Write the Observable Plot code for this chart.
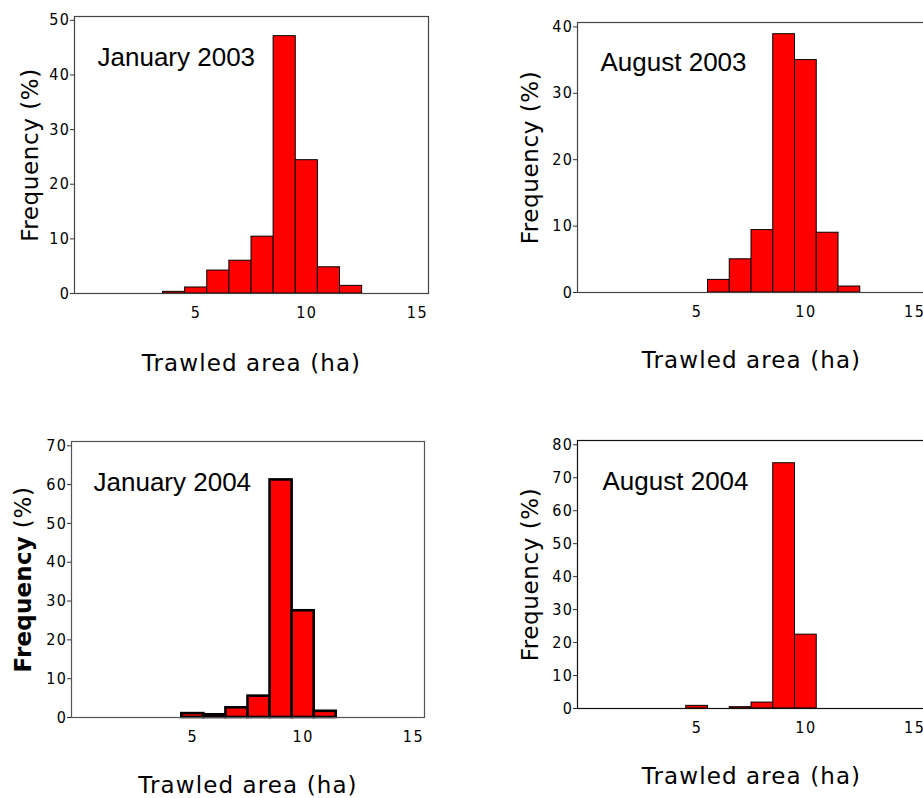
<!DOCTYPE html>
<html>
<head>
<meta charset="utf-8">
<script src="https://cdn.jsdelivr.net/npm/d3@7"></script>
<script src="https://cdn.jsdelivr.net/npm/@observablehq/plot@0.6"></script>
<style>
  html, body { margin: 0; padding: 0; background: #fff; }
  body { width: 923px; height: 798px; overflow: hidden; position: relative; }
  .panel { position: absolute; }
  .panel svg { overflow: visible; max-width: none !important; }
  .panel g[aria-label$="tick label"] text { letter-spacing: 1.5px; font-stretch: condensed; }
</style>
</head>
<body>
<div id="root"></div>
<script>
// Histogram bins: trawled area (ha), bin centres, and frequency (%) per survey
const jan2003Bins = [4, 5, 6, 7, 8, 9, 10, 11, 12];
const jan2003Freq = [0.3, 1.1, 4.2, 6.0, 10.4, 47.1, 24.4, 4.8, 1.4];

const aug2003Bins = [6, 7, 8, 9, 10, 11, 12];
const aug2003Freq = [1.9, 5.0, 9.4, 38.9, 35.0, 9.0, 0.9];

const jan2004Bins = [5, 6, 7, 8, 9, 10, 11];
const jan2004Freq = [1.0, 0.7, 2.5, 5.5, 61.2, 27.5, 1.6];

const aug2004Bins = [5, 7, 8, 9, 10];
const aug2004Freq = [0.8, 0.4, 1.8, 74.4, 22.4];

const xTicks = [5, 10, 15];
const xLabel = "Trawled area (ha)";
const yLabel = "Frequency (%)";

const tickFont = "'DejaVu Sans Condensed', 'Liberation Sans Narrow', sans-serif";
const labelFont = "'DejaVu Sans', sans-serif";
const titleFont = "'Liberation Sans', Arial, sans-serif";

const panels = [
  { title: "January 2003", bins: jan2003Bins, freq: jan2003Freq, yMax: 50.7, yTicks: d3.range(0, 51, 10),
    left: 0, top: 0, width: 461, height: 400,
    margin: { left: 74, right: 33, top: 16, bottom: 107 },
    yLabelDx: -44, xLabelDy: 70, titleDx: 23, titleDy: 41, barStroke: 1, frame: "#444" },
  { title: "August 2003", bins: aug2003Bins, freq: aug2003Freq, yMax: 40.66, yTicks: d3.range(0, 41, 10),
    left: 461, top: 0, width: 470, height: 400,
    margin: { left: 116, right: 6, top: 22, bottom: 108 },
    yLabelDx: -47, xLabelDy: 68, titleDx: 23, titleDy: 40, barStroke: 1, frame: "#444" },
  { title: "January 2004", bins: jan2004Bins, freq: jan2004Freq, yMax: 71.1, yTicks: d3.range(0, 71, 10),
    left: 0, top: 400, width: 461, height: 398,
    margin: { left: 71, right: 37, top: 41, bottom: 81 },
    yLabelDx: -48, xLabelDy: 68, titleDx: 22, titleDy: 41, barStroke: 2.6, frame: "#555", boldY: true },
  { title: "August 2004", bins: aug2004Bins, freq: aug2004Freq, yMax: 81.3, yTicks: d3.range(0, 81, 10),
    left: 461, top: 400, width: 470, height: 398,
    margin: { left: 116, right: 6, top: 40, bottom: 90 },
    yLabelDx: -47, xLabelDy: 68, titleDx: 25, titleDy: 41, barStroke: 1, frame: "#111" }
];

const root = document.getElementById("root");

for (const p of panels) {
  const rows = p.bins.map((b, i) => ({ bin: b, freq: p.freq[i] }));
  const chart = Plot.plot({
    width: p.width,
    height: p.height,
    marginLeft: p.margin.left,
    marginRight: p.margin.right,
    marginTop: p.margin.top,
    marginBottom: p.margin.bottom,
    style: { fontFamily: tickFont, fontSize: "16px", color: "#000", background: "transparent" },
    x: { domain: [-0.5, 15.5] },
    y: { domain: [0, p.yMax] },
    marks: [
      Plot.rectY(rows, {
        x1: d => d.bin - 0.5, x2: d => d.bin + 0.5, y1: 0, y2: "freq",
        fill: "#ff0000", stroke: "#000", strokeWidth: p.barStroke
      }),
      Plot.frame({ stroke: p.frame, strokeWidth: 1.2 }),
      Plot.axisY(p.yTicks, {
        tickSize: 4, tickPadding: 0, label: null, stroke: "#333",
        fontFamily: tickFont, fontSize: 16
      }),
      Plot.axisX(xTicks, {
        tickSize: 0, tickPadding: 13, label: null,
        fontFamily: tickFont, fontSize: 16
      }),
      Plot.text([yLabel], {
        frameAnchor: "left", dx: p.yLabelDx, rotate: -90, textAnchor: "middle",
        fontFamily: labelFont, fontSize: 23, fill: "#000"
      }),
      Plot.text([xLabel], {
        frameAnchor: "bottom", dy: p.xLabelDy, textAnchor: "middle", lineAnchor: "middle",
        fontFamily: labelFont, fontSize: 23, fill: "#000"
      }),
      Plot.text([p.title], {
        frameAnchor: "top-left", dx: p.titleDx, dy: p.titleDy, textAnchor: "start", lineAnchor: "middle",
        fontFamily: titleFont, fontSize: 26, fill: "#000"
      })
    ]
  });

  // Axis titles are set slightly tracked out
  d3.select(chart).selectAll("text")
    .filter(function () { return this.textContent === yLabel; })
    .attr("letter-spacing", 0.6);
  d3.select(chart).selectAll("text")
    .filter(function () { return this.textContent === xLabel; })
    .attr("letter-spacing", 1.1);

  // The January 2004 panel sets "Frequency" in bold, the unit in regular weight
  if (p.boldY) {
    d3.select(chart).selectAll("text")
      .filter(function () { return this.textContent === yLabel; })
      .each(function () {
        const t = d3.select(this);
        t.text(null);
        t.append("tspan").attr("font-weight", "bold").attr("letter-spacing", 0.2).text("Frequency");
        t.append("tspan").text(" (%)");
      });
  }

  const holder = document.createElement("div");
  holder.className = "panel";
  holder.style.left = p.left + "px";
  holder.style.top = p.top + "px";
  holder.style.width = p.width + "px";
  holder.appendChild(chart);
  root.appendChild(holder);
}
</script>
</body>
</html>
